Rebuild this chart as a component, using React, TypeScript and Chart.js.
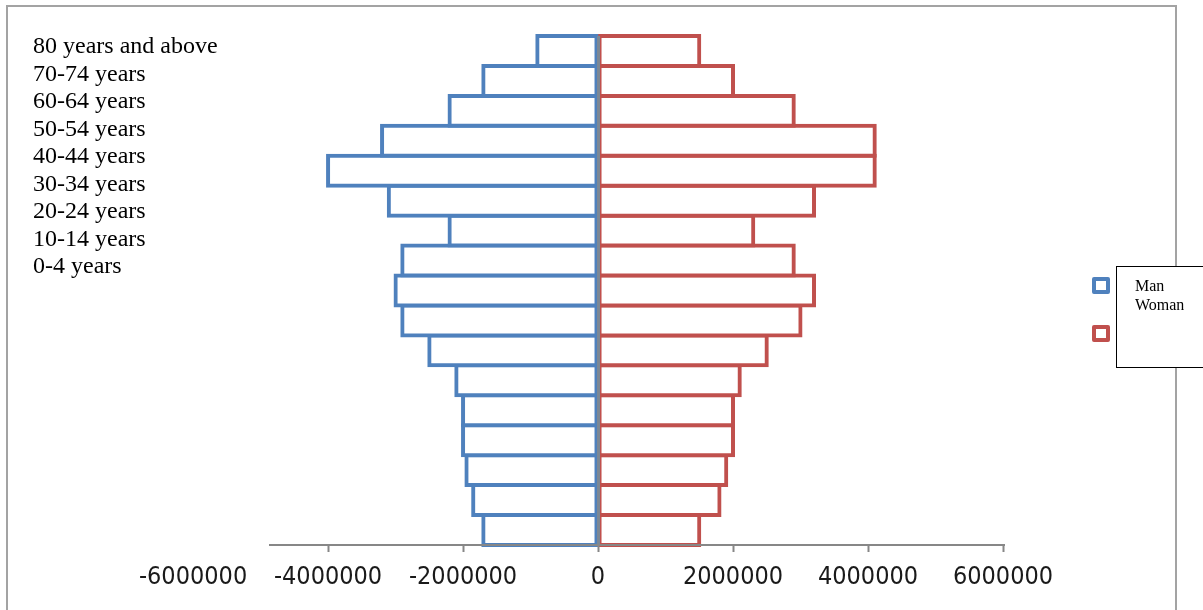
import React, { useEffect, useRef } from "react";
import { Chart, registerables } from "chart.js";

Chart.register(...registerables);

// Age groups, youngest first (drawn bottom to top)
const ageGroups = [
  "0-4 years",
  "5-9 years",
  "10-14 years",
  "15-19 years",
  "20-24 years",
  "25-29 years",
  "30-34 years",
  "35-39 years",
  "40-44 years",
  "45-49 years",
  "50-54 years",
  "55-59 years",
  "60-64 years",
  "65-69 years",
  "70-74 years",
  "75-79 years",
  "80 years and above",
];

// Population by age group (men shown to the left as negative values)
const menValues = [
  -1700000, -1850000, -1950000, -2000000, -2000000, -2100000, -2500000, -2900000,
  -3000000, -2900000, -2200000, -3100000, -4000000, -3200000, -2200000, -1700000,
  -900000,
];
const womenValues = [
  1500000, 1800000, 1900000, 2000000, 2000000, 2100000, 2500000, 3000000,
  3200000, 2900000, 2300000, 3200000, 4100000, 4100000, 2900000, 2000000,
  1500000,
];

const seriesNames = ["Man", "Woman"];
const seriesColors = ["#4f81bd", "#c0504d"];

// Horizontal axis: drawn range and its tick labels
const xAxisMin = -4860000;
const xAxisMax = 6000000;
const xTickValues = [-6000000, -4000000, -2000000, 0, 2000000, 4000000, 6000000];

const serif = "'Liberation Serif', 'Times New Roman', serif";
const narrow = "'Liberation Sans Narrow', 'DejaVu Sans Condensed', sans-serif";

// Outer frame of the chart
const framePlugin = {
  id: "frame",
  beforeDraw(chart: any) {
    const ctx = chart.ctx;
    ctx.save();
    ctx.fillStyle = "#ffffff";
    ctx.fillRect(0, 0, chart.width, chart.height);
    ctx.strokeStyle = "#a3a3a3";
    ctx.lineWidth = 2;
    ctx.strokeRect(7, 6, 1169, 700);
    ctx.restore();
  },
};

// Category names listed at the top left, every second group from the oldest
const ageListPlugin = {
  id: "ageList",
  afterDraw(chart: any) {
    const ctx = chart.ctx;
    const names: string[] = chart.data.labels;
    ctx.save();
    ctx.font = `24px ${serif}`;
    ctx.fillStyle = "#000000";
    ctx.textBaseline = "alphabetic";
    ctx.textAlign = "left";
    let row = 0;
    for (let i = names.length - 1; i >= 0; i -= 2) {
      ctx.fillText(names[i], 33, 53 + row * 27.5);
      row++;
    }
    ctx.restore();
  },
};

// Legend box at the right edge
const legendBoxPlugin = {
  id: "legendBox",
  afterDraw(chart: any) {
    const ctx = chart.ctx;
    ctx.save();
    ctx.fillStyle = "#ffffff";
    ctx.fillRect(1116, 266, 120, 102);
    ctx.strokeStyle = "#000000";
    ctx.lineWidth = 1;
    ctx.strokeRect(1116.5, 266.5, 120, 101);

    const markerTops = [277, 325];
    chart.data.datasets.forEach((ds: any, i: number) => {
      ctx.strokeStyle = ds.borderColor;
      ctx.lineWidth = 4;
      ctx.lineJoin = "round";
      ctx.fillStyle = "#ffffff";
      ctx.beginPath();
      ctx.rect(1094, markerTops[i] + 2, 14, 13);
      ctx.fill();
      ctx.stroke();
    });

    ctx.fillStyle = "#000000";
    ctx.font = `16px ${serif}`;
    ctx.textBaseline = "alphabetic";
    ctx.textAlign = "left";
    chart.data.datasets.forEach((ds: any, i: number) => {
      ctx.fillText(ds.label, 1135, 291 + i * 19.3);
    });
    ctx.restore();
  },
};

export default function App() {
  const canvasRef = useRef<HTMLCanvasElement | null>(null);

  useEffect(() => {
    const canvas = canvasRef.current;
    if (!canvas) return;
    const barStyle = {
      backgroundColor: "#ffffff",
      borderWidth: 4,
      inflateAmount: 2,
      borderSkipped: false as const,
      barPercentage: 1,
      categoryPercentage: 1,
      clip: false as const,
    };
    const chart = new Chart(canvas, {
      type: "bar",
      data: {
        labels: ageGroups,
        datasets: [
          { label: seriesNames[0], data: menValues, borderColor: seriesColors[0], ...barStyle },
          { label: seriesNames[1], data: womenValues, borderColor: seriesColors[1], ...barStyle },
        ],
      },
      options: {
        indexAxis: "y",
        responsive: false,
        animation: false,
        devicePixelRatio: 1,
        layout: { padding: { left: 270, right: 200, top: 36, bottom: 0 } },
        plugins: {
          legend: { display: false },
          tooltip: { enabled: false },
          title: { display: false },
        },
        scales: {
          y: {
            type: "category",
            reverse: true,
            stacked: true,
            display: false,
            grid: { display: false },
          },
          x: {
            type: "linear",
            stacked: true,
            min: xAxisMin,
            max: xAxisMax,
            afterBuildTicks: (scale: any) => {
              scale.ticks = xTickValues.map((v) => ({ value: v }));
            },
            afterFit: (scale: any) => {
              scale.height = 65;
            },
            border: { display: true, color: "#878787", width: 2, z: 2 },
            grid: {
              z: 1,
              drawOnChartArea: true,
              drawTicks: true,
              tickLength: 7,
              tickWidth: 2,
              lineWidth: 3,
              color: (c: any) => (c.tick && c.tick.value === 0 ? "#7b8794" : "rgba(0,0,0,0)"),
              tickColor: (c: any) =>
                c.tick && c.tick.value < xAxisMin ? "rgba(0,0,0,0)" : "#878787",
            },
            ticks: {
              autoSkip: false,
              maxRotation: 0,
              minRotation: 0,
              padding: 10,
              color: "#1a1a1a",
              font: { family: narrow, size: 25 },
              callback: (v: any) => String(v),
            },
          },
        },
      },
      plugins: [framePlugin, ageListPlugin, legendBoxPlugin],
    });
    return () => chart.destroy();
  }, []);

  return (
    <div style={{ position: "fixed", left: 0, top: 0, width: 1203, height: 610 }}>
      <canvas ref={canvasRef} width={1203} height={610} style={{ display: "block" }} />
    </div>
  );
}
